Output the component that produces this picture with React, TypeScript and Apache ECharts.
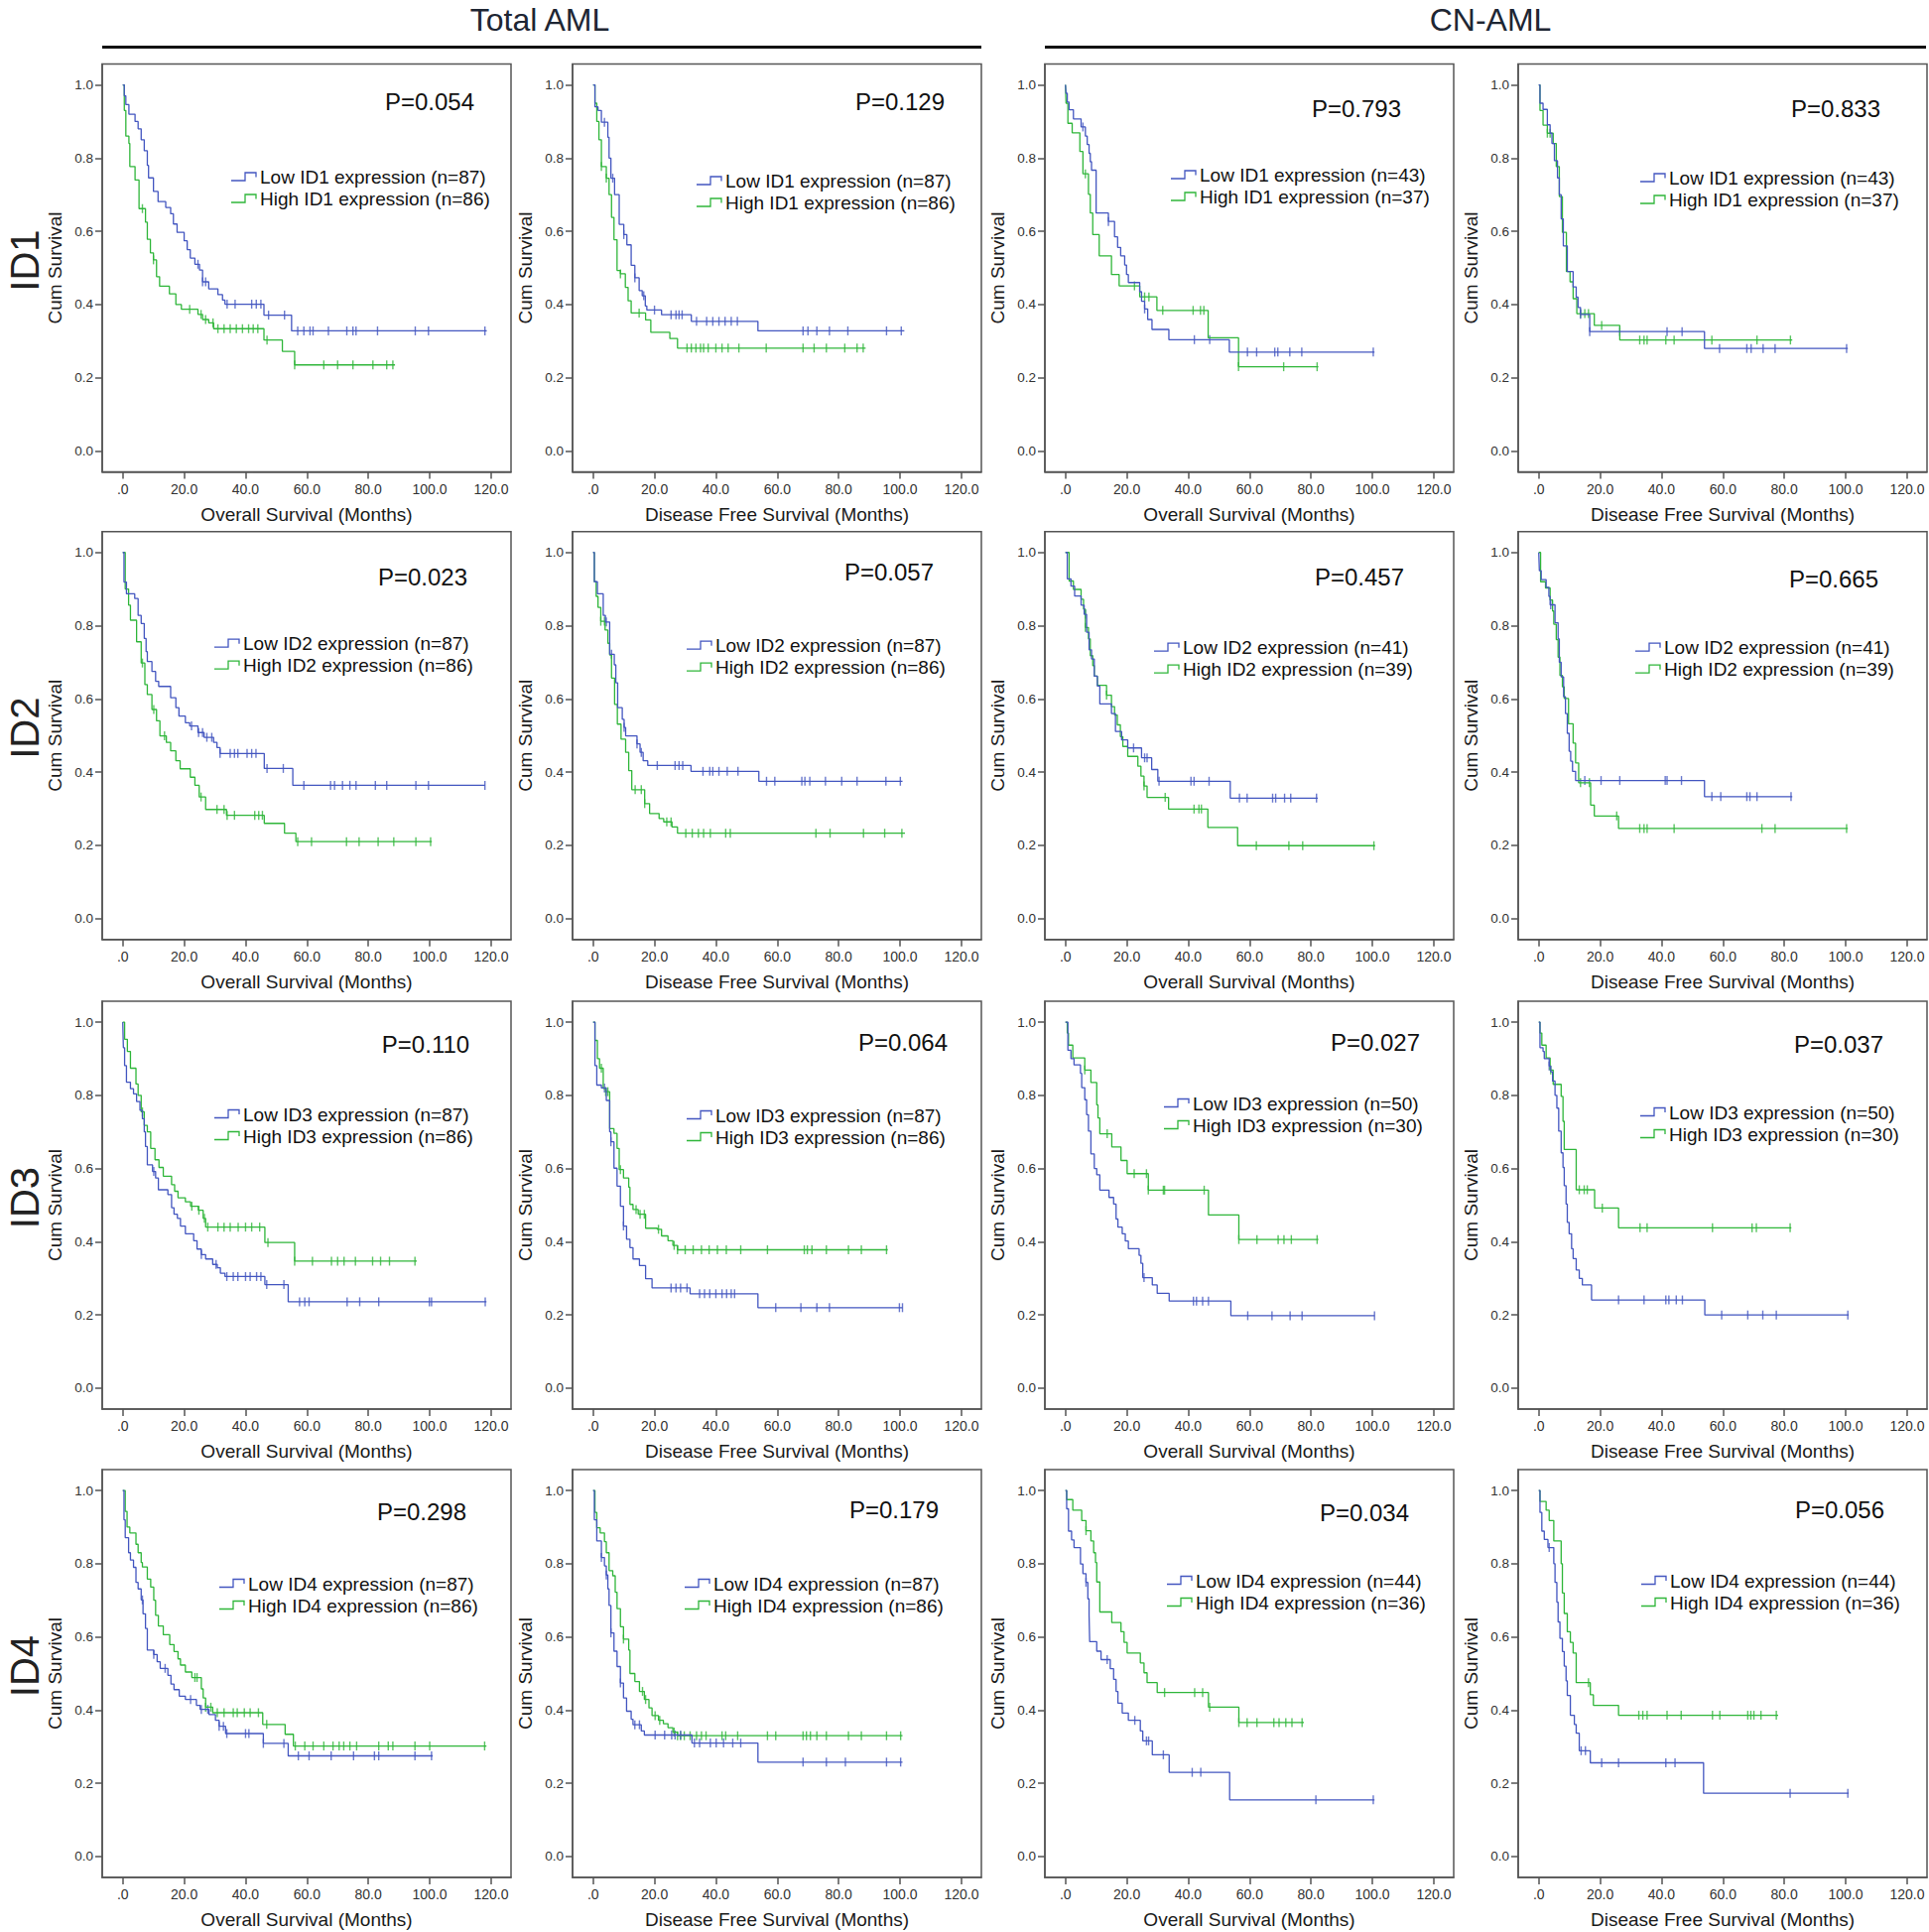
import React, { useEffect, useRef } from "react";
import * as echarts from "echarts";

// ---------- labels ----------
const genes = ["ID1", "ID2", "ID3", "ID4"];
const groupTitles = ["Total AML", "CN-AML"];
const endpointTitles = ["Overall Survival (Months)", "Disease Free Survival (Months)"];
const yTicks = [0, 0.2, 0.4, 0.6, 0.8, 1.0];
const xTicks = [0, 20, 40, 60, 80, 100, 120];
// n per gene: [Total AML, CN-AML]
const nLow = [[87, 43], [87, 41], [87, 50], [87, 44]];
const nHigh = [[86, 37], [86, 39], [86, 30], [86, 36]];
// per gene: [Total OS, Total DFS, CN OS, CN DFS]
const pValues = [
  ["0.054", "0.129", "0.793", "0.833"],
  ["0.023", "0.057", "0.457", "0.665"],
  ["0.110", "0.064", "0.027", "0.037"],
  ["0.298", "0.179", "0.034", "0.056"],
];

// ---------- ID1 ----------
const id1TotOsLow = [[0,1],[0.5,0.97],[1,0.946],[2,0.92],[4,0.9],[5,0.88],[6,0.85],[7,0.82],[8,0.78],[8.4,0.746],[10,0.709],[11.5,0.681],[14,0.665],[15.6,0.648],[16.5,0.62],[17.7,0.597],[20,0.574],[21,0.55],[22,0.527],[23.5,0.51],[25,0.494],[26,0.462],[28,0.443],[31,0.427],[32.5,0.412],[33.3,0.401],[46,0.371],[55,0.328],[118.6,0.328]];
const id1TotOsLowCens = [24.5,26,27,34,36.6,42,43.5,45,47.5,52.7,57,59,61,62,67,73,75,76,83,95.3,99.6,118];
const id1TotOsHigh = [[0,1],[0.5,0.93],[1,0.86],[2,0.84],[2.3,0.777],[4,0.74],[5.3,0.662],[7.4,0.625],[8,0.578],[9,0.541],[10,0.522],[11,0.476],[12,0.45],[15.2,0.429],[17.3,0.4],[19.1,0.387],[24.5,0.373],[26,0.359],[28,0.35],[29.6,0.334],[46,0.303],[52,0.272],[56,0.235],[88.7,0.235]];
const id1TotOsHighCens = [6.4,10,21.8,25.5,27,29.4,31,33,35,37,39,41,42.5,44,47,56,65.5,70,75,81.5,86,88];

const id1TotDfsLow = [[0,1],[0.6,0.94],[1.6,0.93],[2.7,0.898],[4.8,0.857],[5.2,0.8],[5.8,0.745],[7,0.7],[8.5,0.619],[10,0.591],[11,0.563],[12.4,0.507],[13.6,0.473],[15,0.438],[16,0.424],[17,0.396],[17.5,0.385],[22.3,0.372],[32,0.354],[53.7,0.328],[101.4,0.328]];
const id1TotDfsLowCens = [3.7,6.4,10,13.6,16.5,20,25.4,27,28,29,33.7,37,39,41,43,45,47,68.4,70,72.9,77,83,95.6,100.4];
const id1TotDfsHigh = [[0,1],[0.6,0.95],[1.2,0.9],[1.9,0.85],[2.7,0.777],[4.3,0.745],[5.2,0.7],[6,0.638],[6.8,0.577],[7.8,0.493],[8.9,0.484],[10.5,0.447],[11.4,0.41],[12.4,0.377],[17.1,0.358],[18.8,0.324],[25,0.307],[27.5,0.281],[88.8,0.281]];
const id1TotDfsHighCens = [2.7,4.3,8.9,15,30.6,32,33.5,35,36,37.5,40,42,44,47.5,56.4,68.4,72,76,82,86,88];

const id1CnOsLow = [[0,1],[0.2,0.977],[0.6,0.953],[1.2,0.932],[2.6,0.907],[5.1,0.885],[6.5,0.86],[7.1,0.837],[7.7,0.813],[8.1,0.79],[8.5,0.767],[10,0.65],[14,0.627],[16,0.585],[17,0.556],[18,0.533],[19.3,0.508],[19.9,0.482],[20.5,0.46],[24.2,0.435],[24.8,0.409],[25.8,0.388],[26.8,0.359],[28.2,0.332],[33.7,0.304],[53.4,0.27],[100.7,0.27]];
const id1CnOsLowCens = [5.7,14,25.8,42,47,59.3,62.3,68.2,69.2,73.1,77,100.3];
const id1CnOsHigh = [[0,1],[0.2,0.95],[0.8,0.895],[2.2,0.869],[4.7,0.818],[5.7,0.757],[7.5,0.701],[8.1,0.65],[8.9,0.591],[11,0.533],[15,0.482],[17.5,0.451],[24.2,0.421],[29.8,0.384],[46.5,0.309],[56.4,0.23],[82.4,0.23]];
const id1CnOsHighCens = [6.5,22.5,25.8,27.2,31.7,41.6,44,45.1,56.4,71.1,82];

const id1CnDfsLow = [[0,1],[0.4,0.95],[1.4,0.933],[2.8,0.891],[3.7,0.868],[4.3,0.84],[5.1,0.793],[6.1,0.746],[6.7,0.7],[7.3,0.634],[8,0.56],[9.3,0.49],[11.2,0.448],[12.2,0.42],[12.8,0.392],[13.6,0.373],[16.6,0.326],[54,0.28],[100.7,0.28]];
const id1CnDfsLowCens = [13.6,16.6,26.4,41.8,46.7,58.9,67.8,69.2,73.1,77,100.3];
const id1CnDfsHigh = [[0,1],[0.4,0.93],[1.4,0.89],[2.8,0.868],[4.7,0.84],[5.7,0.777],[6.7,0.695],[7.7,0.597],[9,0.49],[10.2,0.462],[11.2,0.416],[12.4,0.375],[18.1,0.343],[26.4,0.303],[82.6,0.303]];
const id1CnDfsHighCens = [2.8,3.7,13.6,15,16.2,20.5,32.9,34.3,35.3,41.4,44.1,56.4,71.1,82];

// ---------- ID2 ----------
const id2TotOsLow = [[0,1],[0.4,0.919],[1.2,0.887],[3.9,0.874],[5,0.828],[6,0.806],[7,0.765],[7.6,0.729],[8,0.702],[9.5,0.675],[10.7,0.648],[11.7,0.634],[15.6,0.603],[17.3,0.576],[18.3,0.553],[20.4,0.535],[21.8,0.526],[24.5,0.508],[26.5,0.495],[29.6,0.481],[30.7,0.467],[31.7,0.451],[46.1,0.41],[55.4,0.364],[118,0.364]];
const id2TotOsLowCens = [22.4,24.7,26,27.4,29,31.7,35,36.4,37.5,40.5,42,43.4,47,52.3,59,67.7,69,71.6,74,76,82.3,86,95.5,99.6,118];
const id2TotOsHigh = [[0,1],[0.8,0.9],[1.9,0.856],[2.5,0.815],[4.5,0.756],[6,0.698],[7.2,0.639],[8,0.612],[9.5,0.571],[11,0.54],[12.1,0.499],[14.2,0.481],[15.6,0.458],[17.3,0.431],[18.7,0.409],[22,0.386],[23.5,0.364],[24.9,0.332],[27,0.298],[33.8,0.282],[46.1,0.26],[52.7,0.233],[56.4,0.21],[100.7,0.21]];
const id2TotOsHighCens = [6.4,10.1,13.6,25.5,30.7,33,34,36.4,43,44.3,45.5,57,61.5,72.9,77,83.2,88.3,95.5,100.3];

const id2TotDfsLow = [[0,1],[0.4,0.92],[1.4,0.887],[3.3,0.828],[4,0.81],[5.4,0.722],[6.9,0.693],[7.4,0.644],[8,0.576],[9.5,0.544],[10.1,0.522],[10.6,0.499],[14.3,0.477],[15.3,0.454],[16.3,0.431],[17.8,0.418],[31.9,0.402],[54,0.375],[100.8,0.375]];
const id2TotDfsLowCens = [4.3,6,10.1,14.3,15.7,20.9,26.7,28,29.2,35.8,38,39,41,43.7,47.2,56.5,59.2,68,69,70.6,75.7,81,86,95.4,100.1];
const id2TotDfsHigh = [[0,1],[0.4,0.92],[1,0.88],[1.6,0.85],[2.5,0.812],[3.9,0.788],[4.8,0.752],[5.4,0.72],[6,0.657],[7,0.585],[7.9,0.531],[9.1,0.49],[10.6,0.454],[11.6,0.404],[12.6,0.352],[16.8,0.314],[18.4,0.287],[21.5,0.273],[23,0.264],[25.7,0.25],[27.5,0.233],[101.6,0.233]];
const id2TotDfsHighCens = [2.5,3.7,13.7,15.7,16.8,24,25.4,30.2,32.3,34.3,36,38.2,43.2,44.7,72.6,77.2,88.1,95,100.6];

const id2CnOsLow = [[0,1],[0.6,0.928],[1.8,0.908],[3,0.881],[5.1,0.856],[6.1,0.831],[6.9,0.782],[7.7,0.734],[8.5,0.709],[9.4,0.662],[10.4,0.635],[11.2,0.586],[15,0.56],[16.3,0.511],[18.3,0.488],[20.3,0.466],[24.8,0.439],[28.1,0.407],[30.1,0.375],[53.7,0.329],[82.2,0.329]];
const id2CnOsLowCens = [6.5,22.2,25.8,26.6,30.5,40.9,41.9,46.8,56.7,59.2,67.5,68.5,71.4,73.4,81.8];
const id2CnOsHigh = [[0,1],[1.2,0.922],[2.6,0.899],[5.1,0.872],[5.9,0.845],[6.5,0.795],[7.5,0.764],[8.1,0.718],[8.9,0.691],[9.4,0.662],[10.4,0.637],[13.4,0.61],[15,0.579],[16,0.556],[16.9,0.529],[17.9,0.497],[18.7,0.47],[20.3,0.443],[23.6,0.416],[24.6,0.389],[25.6,0.362],[26.6,0.331],[33.6,0.299],[46.4,0.249],[56.1,0.199],[100.9,0.199]];
const id2CnOsHighCens = [6.5,13.4,25.6,32.5,41.9,43.5,44.3,62.2,72.8,77.3,100.5];

const id2CnDfsLow = [[0,1],[0.2,0.95],[0.8,0.926],[2.4,0.905],[3.3,0.88],[3.7,0.857],[5.3,0.808],[6.3,0.764],[6.7,0.7],[7.3,0.66],[8.1,0.606],[8.7,0.56],[9.3,0.506],[9.9,0.457],[10.4,0.43],[11,0.402],[12,0.377],[54,0.333],[82.6,0.333]];
const id2CnDfsLowCens = [3.9,15,20.3,26.4,41.2,41.8,46.5,56.4,59.3,67.8,68.8,71.1,82.2];
const id2CnDfsHigh = [[0,1],[0.6,0.92],[2.2,0.903],[3.7,0.87],[4.5,0.84],[4.9,0.804],[5.7,0.762],[6.3,0.714],[6.9,0.664],[7.7,0.633],[8.3,0.601],[9.7,0.532],[11.2,0.479],[12,0.425],[13,0.371],[16.9,0.31],[18.1,0.28],[26,0.246],[100.7,0.246]];
const id2CnDfsHighCens = [13.6,16.5,25.4,32.9,34.3,35.3,44.1,72.7,77,100.3];

// ---------- ID3 ----------
const id3TotOsLow = [[0,1],[0.2,0.93],[0.6,0.881],[1.2,0.836],[2.5,0.818],[3.5,0.804],[4.5,0.783],[5.6,0.759],[6.4,0.736],[7,0.7],[7.4,0.66],[8,0.61],[9.7,0.592],[10.7,0.574],[11.6,0.542],[14.7,0.529],[15.9,0.493],[16.7,0.475],[17.8,0.464],[18.8,0.443],[20.4,0.422],[23.1,0.403],[24.2,0.38],[25.6,0.365],[27,0.353],[29.3,0.338],[30.8,0.329],[31.8,0.314],[33.3,0.305],[46.3,0.283],[53.9,0.236],[118.5,0.236]];
const id3TotOsLowCens = [10.1,25.6,30.4,33.9,36,37.5,40,41.5,43.6,45,46.9,52.5,57.6,59.3,60.7,73.1,77.2,83.4,99.9,100.6,118.1];
const id3TotOsHigh = [[0,1],[0.6,0.953],[1.5,0.92],[2.5,0.874],[4.3,0.831],[5,0.8],[6,0.755],[7,0.718],[8,0.7],[9.1,0.655],[10.5,0.624],[11.8,0.603],[13.2,0.579],[15.9,0.556],[16.9,0.538],[18,0.52],[20.4,0.509],[22.1,0.497],[24.6,0.486],[26.2,0.464],[27,0.44],[46.3,0.398],[56,0.347],[95.8,0.347]];
const id3TotOsHighCens = [6.4,22.5,24.8,26.6,27.7,31,33,35,37.6,40,42,44.6,47.3,56,61.8,68,70,72.1,75.8,81.4,84,86.9,95.2];

const id3TotDfsLow = [[0,1],[0.6,0.881],[1.2,0.828],[2.7,0.82],[4.3,0.786],[5.4,0.7],[5.8,0.673],[6.8,0.601],[7.8,0.552],[8.9,0.497],[9.9,0.443],[10.9,0.407],[12,0.384],[13,0.353],[15.1,0.335],[17.1,0.299],[19.2,0.274],[31.6,0.258],[53.7,0.22],[100.8,0.22]];
const id3TotDfsLowCens = [3.7,5.8,9.9,25.4,27,28.5,30.6,34.7,36.3,38,40,42,43.5,45,46.1,59.5,67.7,72.9,77,99.8,100.8];
const id3TotDfsHigh = [[0,1],[0.6,0.95],[1.4,0.9],[2.1,0.874],[3.3,0.819],[4.1,0.81],[5.4,0.709],[6.8,0.696],[7.8,0.655],[8.5,0.597],[9.9,0.574],[11.6,0.549],[12,0.502],[13,0.488],[14.7,0.475],[17.1,0.437],[20.9,0.434],[22.3,0.416],[24.4,0.403],[26,0.39],[27.5,0.378],[96,0.378]];
const id3TotDfsHighCens = [2.7,4.1,4.8,8.9,14,15.3,16.7,21.3,26.4,27.5,30,32.6,35.3,37.8,40.5,43.4,48.1,56.8,68.8,69.8,71.3,76,83.2,87.4,95.6];

const id3CnOsLow = [[0,1],[0.8,0.923],[1.8,0.9],[2.8,0.883],[4.9,0.86],[5.3,0.821],[6.3,0.788],[6.9,0.747],[7.5,0.702],[8.3,0.64],[9.4,0.6],[10.2,0.583],[11.2,0.541],[14.2,0.521],[15.7,0.503],[16.5,0.462],[17.1,0.44],[18.5,0.422],[19.5,0.402],[20.5,0.381],[24,0.363],[24.6,0.341],[25.2,0.302],[28.3,0.282],[29.9,0.259],[33.8,0.238],[53.9,0.198],[100.7,0.198]];
const id3CnOsLowCens = [25.6,41.7,42.7,44.7,46.6,59.4,67.3,73.2,77.1,100.7];
const id3CnOsHigh = [[0,1],[0.6,0.97],[1,0.937],[2.4,0.902],[6.3,0.869],[8.3,0.835],[10.2,0.774],[10.6,0.738],[11.2,0.695],[15.1,0.659],[18.1,0.622],[20.1,0.586],[27,0.541],[46.6,0.473],[56.5,0.406],[82.4,0.406]];
const id3CnOsHighCens = [6.3,13.6,22.4,26.4,27,31.9,32.3,45.2,56.5,62.4,69.3,71.2,73.6,82];

const id3CnDfsLow = [[0,1],[0.4,0.93],[1.4,0.92],[1.8,0.9],[3.4,0.88],[3.9,0.864],[4.5,0.839],[5.3,0.8],[5.9,0.765],[6.5,0.702],[7.3,0.643],[7.9,0.603],[8.3,0.553],[8.9,0.503],[9.3,0.453],[9.9,0.422],[10.7,0.381],[11.2,0.354],[12.2,0.323],[13.2,0.3],[14.2,0.282],[17.2,0.241],[54.1,0.2],[101,0.2]];
const id3CnDfsLowCens = [3.4,26,34.3,41.4,42.4,44.8,46.8,59.6,68.1,73,77.4,100.7];
const id3CnDfsHigh = [[0,1],[0.4,0.97],[1,0.937],[2.4,0.902],[3.7,0.869],[4.7,0.83],[7.3,0.797],[7.9,0.729],[8.3,0.652],[12.2,0.542],[18.2,0.492],[26,0.438],[82.3,0.438]];
const id3CnDfsHighCens = [3.9,13.2,14.8,15.8,20.7,33,35.3,56.6,69.5,70.9,81.9];

// ---------- ID4 ----------
const id4TotOsLow = [[0,1],[0.4,0.92],[0.8,0.871],[1.9,0.83],[2.5,0.81],[3.5,0.79],[4.3,0.749],[5,0.731],[6,0.701],[6.6,0.663],[7.4,0.623],[8,0.564],[10.1,0.552],[11.2,0.532],[12.2,0.514],[14.7,0.495],[15.7,0.471],[16.7,0.456],[18.4,0.438],[20.4,0.429],[24,0.413],[25.2,0.402],[28.1,0.388],[30.2,0.372],[31.4,0.356],[33.5,0.336],[45.8,0.309],[53.9,0.275],[101,0.275]];
const id4TotOsLowCens = [6.4,10.1,13.8,22.1,25.6,27.7,31.4,32.8,33.9,40,41.1,45.8,52.5,57.2,60.7,67.9,75.2,82,83.4,95.2,100.6];
const id4TotOsHigh = [[0,1],[0.8,0.943],[1.4,0.9],[2.3,0.884],[4.3,0.853],[5,0.83],[6,0.803],[6.4,0.791],[8,0.758],[9.1,0.736],[10.1,0.7],[10.7,0.659],[11.6,0.63],[13.2,0.606],[15.3,0.579],[16.7,0.56],[18,0.54],[18.8,0.523],[20.4,0.504],[22.5,0.489],[25.6,0.458],[26.2,0.433],[27,0.408],[29.3,0.393],[45.6,0.361],[52.9,0.334],[55.6,0.302],[118.5,0.302]];
const id4TotOsHighCens = [23.5,24.2,27,28.7,30.8,33,36,37.3,39.6,41.5,44.2,46.9,56.2,59.3,62,65.5,68.5,70.5,72,74,76.2,83.4,86.5,88,95.2,100,117.9];

const id4TotDfsLow = [[0,1],[0.4,0.92],[1.2,0.862],[2.7,0.817],[3.7,0.794],[4.3,0.769],[4.8,0.731],[5.2,0.686],[5.8,0.611],[6.8,0.561],[7.8,0.519],[8.9,0.474],[9.9,0.433],[10.9,0.397],[12.4,0.375],[13,0.36],[15.7,0.343],[16.7,0.332],[32.2,0.31],[53.7,0.258],[100.8,0.258]];
const id4TotDfsLowCens = [2.7,4.3,5.8,8.9,13.6,15.1,20.2,23.3,25.6,26.7,28.5,33,34.7,38.2,40.1,42.5,45.5,48.1,68.4,76,82.2,95.6,100.2];
const id4TotDfsHigh = [[0,1],[0.6,0.94],[1.2,0.898],[2.3,0.884],[3.7,0.86],[4.3,0.83],[5.2,0.781],[6.4,0.767],[7.2,0.722],[7.8,0.677],[8.9,0.628],[9.9,0.594],[11.6,0.564],[12,0.5],[13.6,0.478],[15.1,0.451],[16.7,0.429],[18.2,0.406],[19.2,0.385],[21.3,0.372],[22.9,0.363],[24.4,0.352],[26,0.34],[27.5,0.33],[100.8,0.33]];
const id4TotDfsHighCens = [9.9,16.1,17.1,20.2,21.7,26.4,27.5,28.5,29.7,31.6,33.7,35.3,36.8,42,43.2,47.1,56.8,59.5,68.4,69.5,70.8,72.9,76,83.2,87.4,95.6,100.2];

const id4CnOsLow = [[0,1],[0.4,0.95],[1,0.889],[2,0.865],[2.8,0.844],[4.9,0.799],[5.7,0.773],[6.7,0.749],[7.3,0.704],[7.7,0.659],[7.9,0.587],[10.2,0.561],[11.6,0.538],[14.6,0.513],[15.7,0.484],[16.5,0.451],[17.1,0.419],[18.5,0.392],[20.5,0.372],[24.4,0.343],[25.2,0.316],[28.3,0.278],[33.8,0.23],[53.5,0.155],[100.7,0.155]];
const id4CnOsLowCens = [6.7,13.6,22.6,26.4,27.1,31.9,41.3,44.1,81.6,100.3];
const id4CnOsHigh = [[0,1],[0.4,0.975],[2.4,0.946],[5.3,0.918],[6.7,0.89],[8.3,0.862],[9.2,0.83],[9.8,0.803],[10.2,0.75],[11.2,0.668],[15.1,0.639],[18.1,0.614],[19.1,0.585],[20.1,0.556],[24.4,0.529],[25.6,0.502],[26.6,0.475],[29.9,0.448],[46.6,0.408],[56.5,0.366],[77.7,0.366]];
const id4CnOsHighCens = [6.7,32.3,42.1,44.7,47,56.5,59.2,62.4,67.9,69.6,71.8,73.8,77.1];

const id4CnDfsLow = [[0,1],[0.4,0.94],[1,0.889],[1.8,0.866],[3,0.844],[4.9,0.8],[5.3,0.749],[5.9,0.695],[6.3,0.641],[6.9,0.596],[7.7,0.56],[8.3,0.52],[8.9,0.48],[9.3,0.44],[10.3,0.386],[11.6,0.361],[12.2,0.337],[13.2,0.289],[16.8,0.256],[53.7,0.173],[101,0.173]];
const id4CnDfsLowCens = [3.4,13.8,15.2,20.5,26,41.4,44.4,81.9,100.7];
const id4CnDfsHigh = [[0,1],[0.4,0.97],[2.4,0.946],[3.4,0.918],[4.9,0.862],[7.3,0.8],[7.7,0.72],[8.3,0.664],[9.3,0.614],[10.3,0.585],[11.2,0.556],[12.2,0.475],[16.8,0.442],[17.8,0.413],[26,0.386],[78,0.386]];
const id4CnDfsHighCens = [16.2,32.6,33.9,35.3,41.8,46.4,56.6,59,68.1,69.1,70.1,72.4,77.4];

// panels in row-major order (gene rows x [Tot OS, Tot DFS, CN OS, CN DFS])
const panelCurves = [
  [id1TotOsLow, id1TotOsLowCens, id1TotOsHigh, id1TotOsHighCens],
  [id1TotDfsLow, id1TotDfsLowCens, id1TotDfsHigh, id1TotDfsHighCens],
  [id1CnOsLow, id1CnOsLowCens, id1CnOsHigh, id1CnOsHighCens],
  [id1CnDfsLow, id1CnDfsLowCens, id1CnDfsHigh, id1CnDfsHighCens],
  [id2TotOsLow, id2TotOsLowCens, id2TotOsHigh, id2TotOsHighCens],
  [id2TotDfsLow, id2TotDfsLowCens, id2TotDfsHigh, id2TotDfsHighCens],
  [id2CnOsLow, id2CnOsLowCens, id2CnOsHigh, id2CnOsHighCens],
  [id2CnDfsLow, id2CnDfsLowCens, id2CnDfsHigh, id2CnDfsHighCens],
  [id3TotOsLow, id3TotOsLowCens, id3TotOsHigh, id3TotOsHighCens],
  [id3TotDfsLow, id3TotDfsLowCens, id3TotDfsHigh, id3TotDfsHighCens],
  [id3CnOsLow, id3CnOsLowCens, id3CnOsHigh, id3CnOsHighCens],
  [id3CnDfsLow, id3CnDfsLowCens, id3CnDfsHigh, id3CnDfsHighCens],
  [id4TotOsLow, id4TotOsLowCens, id4TotOsHigh, id4TotOsHighCens],
  [id4TotDfsLow, id4TotDfsLowCens, id4TotDfsHigh, id4TotDfsHighCens],
  [id4CnOsLow, id4CnOsLowCens, id4CnOsHigh, id4CnOsHighCens],
  [id4CnDfsLow, id4CnDfsLowCens, id4CnDfsHigh, id4CnDfsHighCens],
];

// ---------- layout (pixels) ----------
const colLeft = [103, 577, 1053, 1530];
const rowTop = [64.5, 535.7, 1009, 1481];
const BOX_W = 412;
const BOX_H = 411;
const pPos = [
  [330, 38], [330, 38], [314, 45], [320, 45],
  [323, 46], [319, 41], [317, 46], [318, 48],
  [326, 43], [333, 41], [333, 41], [323, 43],
  [322, 42], [324, 40], [322, 43], [324, 40],
];
const legPos = [
  [130, 114], [125, 118], [127, 112], [123, 115],
  [113, 113], [115, 115], [110, 117], [118, 117],
  [113, 114], [115, 115], [120, 103], [123, 112],
  [118, 115], [113, 115], [123, 112], [124, 112],
];

const BLUE = "#4356c0";
const GREEN = "#2fb63a";
const FONT = "'Liberation Sans', Arial, sans-serif";

function stepAt(curve: number[][], t: number): number {
  let v = curve[0][1];
  for (const [x, y] of curve) {
    if (x <= t) v = y;
    else break;
  }
  return v;
}

function buildOption() {
  const grids: any[] = [];
  const xAxes: any[] = [];
  const yAxes: any[] = [];
  const series: any[] = [];
  const graphics: any[] = [];

  for (let k = 0; k < 16; k++) {
    const r = Math.floor(k / 4);
    const c = k % 4;
    const left = colLeft[c];
    const top = rowTop[r];
    grids.push({
      left, top, width: BOX_W, height: BOX_H,
      show: true, borderColor: "#555", borderWidth: 1.5, backgroundColor: "transparent",
    });
    xAxes.push({
      gridIndex: k, type: "value", min: -6.7, max: 126.5,
      name: endpointTitles[c % 2], nameLocation: "middle", nameGap: 33,
      nameTextStyle: { fontSize: 19, color: "#1a1a1a", fontFamily: FONT },
      axisLine: { show: true, onZero: false, lineStyle: { color: "#555", width: 1.5 } },
      axisTick: { show: true, length: 7, customValues: xTicks, lineStyle: { color: "#555", width: 1.5 } },
      axisLabel: {
        customValues: xTicks, fontSize: 14, color: "#333", margin: 10, fontFamily: FONT,
        formatter: (v: number) => (v === 0 ? ".0" : v.toFixed(1)),
      },
      splitLine: { show: false },
    });
    yAxes.push({
      gridIndex: k, type: "value", min: -0.057, max: 1.057,
      name: "Cum Survival", nameLocation: "middle", nameGap: 38, nameRotate: 90,
      nameTextStyle: { fontSize: 19, color: "#1a1a1a", fontFamily: FONT },
      axisLine: { show: true, onZero: false, lineStyle: { color: "#555", width: 1.5 } },
      axisTick: { show: true, length: 7, customValues: yTicks, lineStyle: { color: "#555", width: 1.5 } },
      axisLabel: {
        customValues: yTicks, fontSize: 13.5, color: "#333", margin: 9, fontFamily: FONT,
        formatter: (v: number) => v.toFixed(1),
      },
      splitLine: { show: false },
    });

    const [low, lowCens, high, highCens] = panelCurves[k] as any;
    const addCurve = (curve: number[][], cens: number[], color: string, name: string) => {
      series.push({
        type: "line", name, xAxisIndex: k, yAxisIndex: k, data: curve, step: "end",
        showSymbol: false, symbol: "none", silent: true,
        lineStyle: { color, width: 1.3 }, itemStyle: { color },
      });
      series.push({
        type: "scatter", xAxisIndex: k, yAxisIndex: k, silent: true,
        data: cens.map((t) => [t, stepAt(curve, t)]),
        symbol: "rect", symbolSize: [1.4, 9], itemStyle: { color },
      });
    };
    addCurve(high, highCens, GREEN, "High");
    addCurve(low, lowCens, BLUE, "Low");

    // P value
    graphics.push({
      type: "text", x: left + pPos[k][0], y: top + pPos[k][1],
      style: {
        text: "P=" + pValues[r][c], fontSize: 24, fill: "#111", fontFamily: FONT,
        align: "center", verticalAlign: "middle",
      },
    });

    // legend
    const gi = c < 2 ? 0 : 1;
    const lx = left + legPos[k][0];
    const ly = top + legPos[k][1];
    const entries = [
      { color: BLUE, text: `Low ${genes[r]} expression (n=${nLow[r][gi]})` },
      { color: GREEN, text: `High ${genes[r]} expression (n=${nHigh[r][gi]})` },
    ];
    entries.forEach((e, i) => {
      const yy = ly + i * 22;
      graphics.push({
        type: "polyline",
        shape: { points: [[lx, yy + 3.5], [lx + 14, yy + 3.5], [lx + 14, yy - 4.5], [lx + 25, yy - 4.5], [lx + 25, yy]] },
        style: { stroke: e.color, lineWidth: 1.3, fill: null },
      });
      graphics.push({
        type: "text", x: lx + 29, y: yy,
        style: { text: e.text, fontSize: 19, fill: "#111", fontFamily: FONT, align: "left", verticalAlign: "middle" },
      });
    });
  }

  // group titles + underline
  const titleX = [544, 1502];
  const lineSpan = [[103, 989], [1053, 1941]];
  groupTitles.forEach((t, i) => {
    graphics.push({
      type: "text", x: titleX[i], y: 20,
      style: { text: t, fontSize: 32, fill: "#1e2633", fontFamily: FONT, align: "center", verticalAlign: "middle" },
    });
    graphics.push({
      type: "line",
      shape: { x1: lineSpan[i][0], y1: 47.5, x2: lineSpan[i][1], y2: 47.5 },
      style: { stroke: "#111", lineWidth: 3 },
    });
  });

  // row labels
  genes.forEach((g, r) => {
    graphics.push({
      type: "text", x: 25, y: rowTop[r] + 198, rotation: Math.PI / 2,
      style: { text: g, fontSize: 40, fill: "#222", fontFamily: FONT, align: "center", verticalAlign: "middle" },
    });
  });

  return {
    animation: false,
    backgroundColor: "#ffffff",
    textStyle: { fontFamily: FONT },
    grid: grids,
    xAxis: xAxes,
    yAxis: yAxes,
    series,
    graphic: { elements: graphics },
  };
}

export default function App() {
  const ref = useRef<HTMLDivElement>(null);
  useEffect(() => {
    if (!ref.current) return;
    const chart = echarts.init(ref.current, undefined, { renderer: "svg" });
    chart.setOption(buildOption() as any);
    return () => chart.dispose();
  }, []);
  return (
    <div
      ref={ref}
      style={{ position: "absolute", left: 0, top: 0, width: 1944, height: 1947, background: "#fff" }}
    />
  );
}
